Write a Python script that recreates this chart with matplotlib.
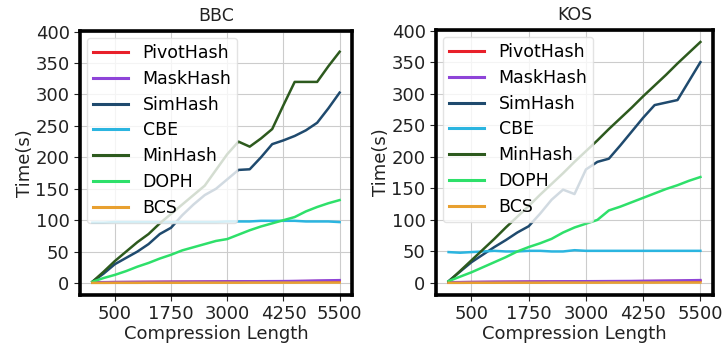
import matplotlib
matplotlib.use("Agg")
import matplotlib.pyplot as plt

x = [0, 250, 500, 750, 1000, 1250, 1500, 1750, 2000, 2250, 2500, 2750,
     3000, 3250, 3500, 3750, 4000, 4250, 4500, 4750, 5000, 5250, 5500]

methods = ["PivotHash", "MaskHash", "SimHash", "CBE", "MinHash", "DOPH", "BCS"]
colors = ["#e8202a", "#8e44d8", "#1f4a6e", "#2bb5e0", "#2d5a1e", "#2ee06a", "#e8a030"]

bbc_pivot = [1.0, 1.2, 1.4, 1.5, 1.6, 1.7, 1.8, 1.9, 2.0, 2.0, 2.1, 2.2,
             2.3, 2.4, 2.5, 2.6, 2.7, 2.8, 2.9, 3.0, 3.1, 3.2, 3.3]
bbc_mask = [1.2, 1.4, 1.6, 1.7, 1.8, 1.9, 2.0, 2.1, 2.2, 2.3, 2.4, 2.5,
            2.6, 2.7, 2.8, 2.9, 3.0, 3.1, 3.3, 3.6, 4.0, 4.3, 4.6]
bbc_sim = [2, 15, 30, 40, 50, 62, 78, 88, 108, 125, 140, 150,
           165, 180, 181, 200, 221, 227, 234, 243, 255, 278, 303]
bbc_cbe = [96, 96, 97, 97, 97, 97, 97, 97, 97, 97, 97, 97,
           98, 98, 98, 99, 99, 99, 99, 98, 98, 98, 97]
bbc_min = [2, 18, 35, 50, 65, 78, 95, 110, 125, 140, 155, 180,
           205, 225, 217, 230, 245, 283, 320, 320, 320, 345, 368]
bbc_doph = [2, 8, 13, 19, 26, 32, 39, 45, 52, 57, 62, 67,
            70, 77, 84, 90, 95, 100, 105, 114, 121, 127, 132]
bbc_bcs = [0.3, 0.3, 0.4, 0.4, 0.4, 0.5, 0.5, 0.5, 0.5, 0.6, 0.6, 0.6,
           0.6, 0.6, 0.7, 0.7, 0.7, 0.7, 0.7, 0.8, 0.8, 0.8, 0.8]

kos_pivot = [1.0, 1.2, 1.4, 1.5, 1.6, 1.7, 1.8, 1.9, 2.0, 2.1, 2.2, 2.3,
             2.4, 2.5, 2.6, 2.7, 2.8, 2.9, 3.0, 3.1, 3.2, 3.3, 3.4]
kos_mask = [1.2, 1.4, 1.6, 1.8, 2.0, 2.1, 2.2, 2.3, 2.4, 2.5, 2.6, 2.7,
            2.8, 2.9, 3.0, 3.1, 3.2, 3.4, 3.6, 3.8, 4.0, 4.3, 4.6]
kos_sim = [3, 18, 33, 45, 57, 68, 80, 90, 110, 132, 148, 141,
           180, 192, 197, 218, 240, 262, 282, 286, 290, 320, 350]
kos_cbe = [49, 48, 49, 50, 51, 50, 50, 51, 51, 50, 50, 52,
           51, 51, 51, 51, 51, 51, 51, 51, 51, 51, 51]
kos_min = [2, 19, 36, 53, 70, 88, 105, 122, 140, 157, 174, 192,
           209, 226, 244, 261, 278, 296, 313, 330, 348, 365, 382]
kos_doph = [3, 10, 17, 25, 33, 41, 50, 57, 63, 70, 80, 88,
            94, 100, 115, 121, 128, 135, 142, 149, 155, 162, 168]
kos_bcs = [0.3, 0.3, 0.4, 0.4, 0.4, 0.5, 0.5, 0.5, 0.5, 0.6, 0.6, 0.6,
           0.6, 0.6, 0.7, 0.7, 0.7, 0.7, 0.7, 0.8, 0.8, 0.8, 0.8]

xticks = [500, 1750, 3000, 4250, 5500]
yticks = [0, 50, 100, 150, 200, 250, 300, 350, 400]

datasets = [
    ("BBC", [bbc_pivot, bbc_mask, bbc_sim, bbc_cbe, bbc_min, bbc_doph, bbc_bcs]),
    ("KOS", [kos_pivot, kos_mask, kos_sim, kos_cbe, kos_min, kos_doph, kos_bcs]),
]

fig = plt.figure(figsize=(7.22, 3.45), dpi=100)
rects = [[80 / 722, 50 / 345, 272 / 722, 264 / 345],
         [436 / 722, 50 / 345, 277 / 722, 265 / 345]]

for rect, (title, series) in zip(rects, datasets):
    ax = fig.add_axes(rect)
    for name, col, ys in zip(methods, colors, series):
        ax.plot(x, ys, color=col, lw=1.8, label=name)
    ax.set_xlim(-275, 5775)
    ax.set_ylim(-19, 401)
    ax.set_xticks(xticks)
    ax.set_yticks(yticks)
    ax.grid(True, color="#cccccc", lw=0.8)
    ax.set_axisbelow(True)
    for s in ax.spines.values():
        s.set_linewidth(2.6)
        s.set_color("black")
    ax.tick_params(axis="both", labelsize=13, colors="#222222", length=4, width=0.8)
    ax.set_title(title, fontsize=12.5, color="#222222", pad=7)
    ax.set_xlabel("Compression Length", fontsize=13, color="#222222", labelpad=1)
    ax.set_ylabel("Time(s)", fontsize=13, color="#222222", labelpad=1)
    leg = ax.legend(loc="upper left", fontsize=12.5, framealpha=0.8,
                    handlelength=2.0, labelspacing=0.45, borderpad=0.35,
                    handletextpad=0.85, borderaxespad=0.4)
    leg.get_frame().set_edgecolor("#dddddd")
    for h in leg.get_lines():
        h.set_linewidth(2.2)

fig.savefig("out.png", dpi=100)
